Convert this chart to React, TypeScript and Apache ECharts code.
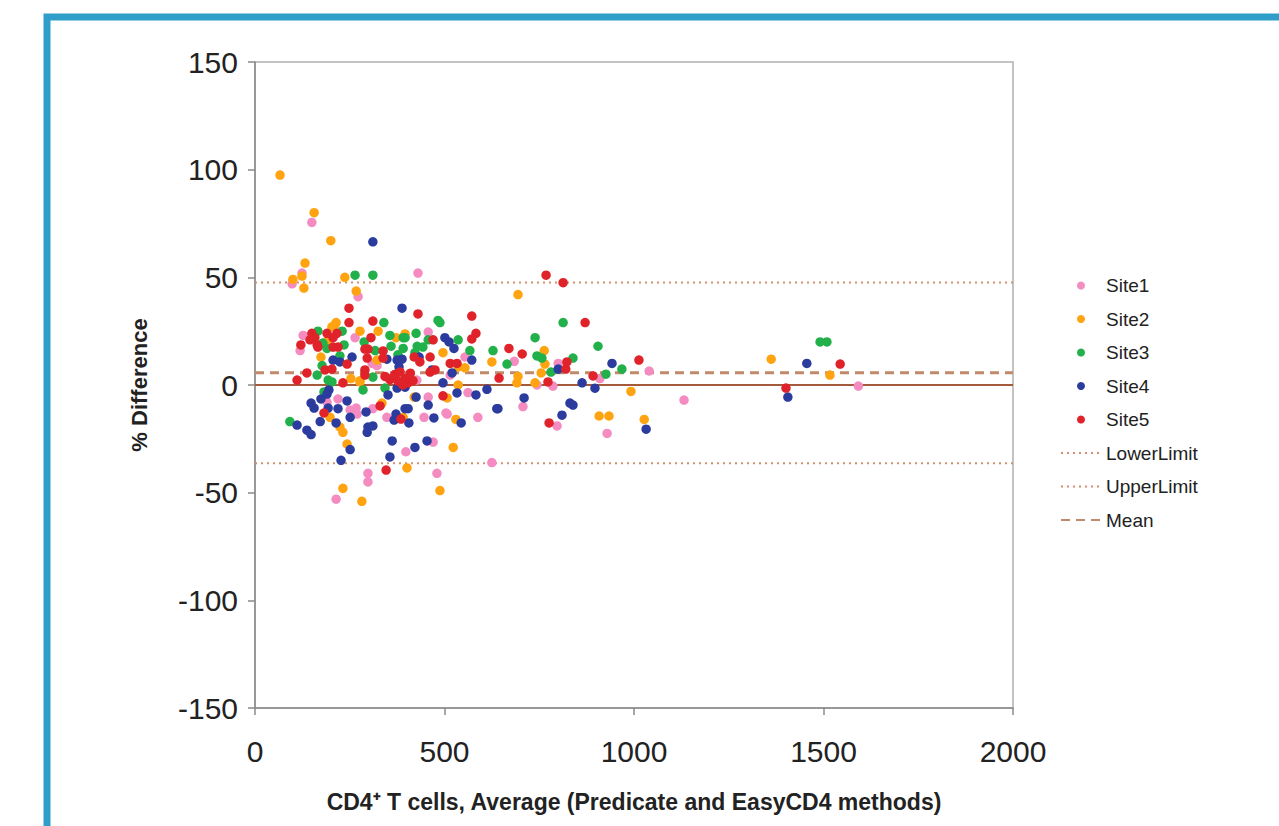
import React, { useEffect, useRef } from "react";
import * as echarts from "echarts";

const siteNames = ["Site1", "Site2", "Site3", "Site4", "Site5"];
const siteColors = ["#f48cc2", "#ffa310", "#22b04a", "#2b3c9e", "#e0222a"];

const site1: number[][] = [
  [124, 52], [98, 47], [430, 52], [272, 41], [127, 23], [264, 22], [119, 16], [309, 10], [322, 9],
  [190, -8], [219, -6.5], [251, -11.6], [267, -10.7], [269, -13.5], [311, -11], [348, -15],
  [298, -41], [298, -45], [214, -53], [398, -31], [470, -26.5], [446, -15], [507, -13.5], [457, -5.6],
  [480, -41], [625, -36], [588, -15], [562, -3.5], [504, -13], [684, 11], [707, -10], [744, 0],
  [786, -0.5], [800, 10], [910, 3], [929, -22.5], [797, -19], [1040, 6.5], [1132, -7], [1592, -0.5],
  [554, 13], [427, 2.3], [457, 24.6], [515, 4.6], [365, 4], [150, 75.5],
];
const site2: number[][] = [
  [66, 97.5], [156, 80], [132, 56.6], [200, 67], [100, 49], [124, 50.6], [129, 45], [237, 50],
  [267, 43.6], [214, 29], [325, 25], [203, 27], [277, 25], [193, 21], [174, 13], [253, 3], [277, 2],
  [322, 11.6], [372, 22], [396, 23.7], [496, 15], [198, -15], [224, -19.5], [232, -22], [243, -27.4],
  [232, -48], [282, -54], [335, -8.4], [391, -15], [401, -38.5], [530, -16], [523, -29], [488, -49],
  [507, -6], [536, 0], [694, 42], [625, 10.7], [763, 16], [765, 9.7], [755, 5.6], [694, 4], [691, 1],
  [739, 1], [536, 8.4], [554, 8], [992, -3], [908, -14.4], [934, -14.4], [1027, -16], [1362, 12],
  [1517, 4.6], [420, -5.6], [277, 1.4], [211, 28],
];
const site3: number[][] = [
  [92, -17], [264, 51], [311, 51], [340, 29], [483, 30], [166, 25], [230, 25], [235, 18.6], [179, 19.5],
  [190, 17], [288, 20], [356, 23], [391, 22], [396, 22], [425, 24], [457, 21], [317, 16], [359, 18],
  [391, 17], [428, 18], [443, 17.6], [422, 15], [224, 13.5], [177, 9], [311, 3.7], [164, 4.6], [377, 14],
  [488, 29], [536, 21], [567, 16], [628, 16], [665, 9.7], [739, 22], [744, 13.5], [757, 12.5], [813, 29],
  [839, 12.5], [905, 18], [781, 6], [926, 5], [968, 7.4], [1491, 20], [1509, 20], [285, -2.3],
  [182, -3.2], [343, -1.4], [193, 2.3], [203, 1.4],
];
const site4: number[][] = [
  [111, -18.6], [137, -21], [148, -23], [148, -8.4], [156, -10.7], [174, -6.5], [195, -2.3], [190, -4.2],
  [193, -10.7], [172, -17], [219, -11], [243, -7.4], [214, -17.6], [251, -15], [293, -12.5], [298, -19.5],
  [311, -19], [296, -22], [251, -30], [227, -35], [372, -13.5], [367, -16.3], [396, -11], [404, -11],
  [406, -17.6], [362, -26], [356, -33.4], [422, -29], [454, -26], [457, -9.3], [472, -15.3], [544, -17.6],
  [638, -11], [612, -2], [583, -4.6], [533, -3.7], [496, 1], [396, -1], [375, -1.4], [351, -4.6],
  [425, -5.6], [311, 66.5], [388, 35.7], [256, 13], [206, 11.6], [224, 10.7], [348, 12], [375, 11.6],
  [388, 12], [433, 13], [380, 8.4], [501, 22], [512, 20], [525, 17], [467, 7], [572, 11.6], [520, 5.6],
  [710, -6], [641, -11], [810, -14], [831, -8.4], [839, -9.3], [897, -1.5], [863, 1], [942, 10],
  [800, 7.4], [1032, -20.5], [1456, 10], [1406, -5.6],
];
const site5: number[][] = [
  [248, 35.7], [430, 33], [248, 29], [311, 29.7], [150, 24], [158, 22], [145, 21], [190, 24], [216, 24],
  [206, 22], [121, 18.6], [164, 18.6], [166, 17.6], [206, 17.6], [219, 17.6], [306, 22], [470, 21],
  [290, 16.7], [298, 16.7], [338, 15.8], [462, 13], [243, 9.7], [185, 7], [203, 7.4], [296, 12.5],
  [338, 12.5], [420, 13], [435, 10.7], [290, 7], [290, 4.6], [232, 1], [137, 5.6], [111, 2.3], [343, 4],
  [356, 2.5], [370, 5], [383, 6], [396, 3], [404, 1], [410, 5.5], [417, 2], [390, 0], [365, 3.5],
  [377, 1.8], [462, 6], [475, 7], [572, 32], [583, 24], [572, 21.4], [515, 10], [533, 10], [670, 17],
  [705, 14.4], [768, 51], [813, 47.5], [871, 29], [823, 10.7], [820, 7.4], [644, 3.2], [773, 1.4],
  [892, 4.2], [1013, 11.6], [776, -17.6], [182, -13], [330, -9.7], [385, -15.8], [346, -39.5],
  [496, -5], [1544, 9.7], [1401, -1.4],
];
const siteData = [site1, site2, site3, site4, site5];

const lowerLimit = -36.3;
const upperLimit = 47.6;
const meanDiff = 5.7;
const xRange = [0, 2000];

const yTicks = { min: -150, max: 150, interval: 50 };
const xTicks = { min: 0, max: 2000, interval: 500 };

export default function App() {
  const ref = useRef<HTMLDivElement>(null);
  useEffect(() => {
    if (!ref.current) return;
    const chart = echarts.init(ref.current, null, { renderer: "svg" });
    const font = "'Liberation Sans', Arial, sans-serif";
    const scatterSeries = siteNames.map((name, i) => ({
      name,
      type: "scatter",
      data: siteData[i],
      symbol: "circle",
      symbolSize: 9.5,
      itemStyle: { color: siteColors[i], opacity: 1 },
      z: 3,
    }));
    const hline = (name: string, v: number, color: string, width: number, type: any) => ({
      name,
      type: "line",
      data: xRange.map((x) => [x, v]),
      symbol: "none",
      showSymbol: false,
      lineStyle: { color, width, type },
      itemStyle: { color },
      z: 2,
    });
    chart.setOption({
      animation: false,
      backgroundColor: "#ffffff",
      textStyle: { fontFamily: font },
      grid: {
        left: 255,
        right: 266,
        top: 62,
        bottom: 118,
        show: true,
        borderColor: "#b0b0b0",
        borderWidth: 1.5,
      },
      xAxis: {
        type: "value",
        min: xTicks.min,
        max: xTicks.max,
        interval: xTicks.interval,
        splitLine: { show: false },
        axisLine: { onZero: false, lineStyle: { color: "#8a8a8a", width: 1.5 } },
        axisTick: { show: true, length: 7, lineStyle: { color: "#8a8a8a", width: 1.5 } },
        axisLabel: {
          fontSize: 30,
          color: "#222",
          margin: 28,
          fontFamily: font,
          formatter: (v: number) => String(v),
        },
        name: "CD4⁺ T cells, Average (Predicate and EasyCD4 methods)",
        nameLocation: "middle",
        nameGap: 82,
        nameTextStyle: { fontSize: 23, fontWeight: "bold", color: "#222", fontFamily: font },
      },
      yAxis: {
        type: "value",
        min: yTicks.min,
        max: yTicks.max,
        interval: yTicks.interval,
        splitLine: { show: false },
        axisLine: { show: true, onZero: false, lineStyle: { color: "#8a8a8a", width: 1.5 } },
        axisTick: { show: true, length: 7, lineStyle: { color: "#8a8a8a", width: 1.5 } },
        axisLabel: {
          fontSize: 30,
          color: "#222",
          margin: 17,
          fontFamily: font,
          formatter: (v: number) => String(v),
        },
        name: "% Difference",
        nameLocation: "middle",
        nameGap: 105,
        nameRotate: 90,
        nameTextStyle: { fontSize: 22, fontWeight: "bold", color: "#222", fontFamily: font },
      },
      legend: {
        orient: "vertical",
        left: 1055,
        top: 271,
        itemWidth: 40,
        itemHeight: 8,
        itemGap: 14.5,
        data: [
          ...siteNames.map((n) => ({ name: n, icon: "circle" })),
          { name: "LowerLimit", itemStyle: { opacity: 0 } },
          { name: "UpperLimit", itemStyle: { opacity: 0 } },
          { name: "Mean", itemStyle: { opacity: 0 } },
        ],
        textStyle: { fontSize: 19, color: "#222", lineHeight: 17, fontFamily: font },
      },
      graphic: [
        {
          type: "rect",
          shape: { x: 47, y: 17, width: 1400, height: 1000 },
          style: { fill: "none", stroke: "#2f9ec9", lineWidth: 7 },
          z: 10,
        },
      ],
      series: [
        ...scatterSeries,
        hline("Zero", 0, "#a65a3c", 2, "solid"),
        hline("LowerLimit", lowerLimit, "#d4906c", 2, [2, 4]),
        hline("UpperLimit", upperLimit, "#d4906c", 2, [2, 4]),
        hline("Mean", meanDiff, "#c08a6a", 3, [9, 6]),
      ],
    });
    return () => chart.dispose();
  }, []);
  return (
    <div
      ref={ref}
      style={{ position: "fixed", left: 0, top: 0, width: 1279, height: 826, background: "#fff" }}
    />
  );
}
